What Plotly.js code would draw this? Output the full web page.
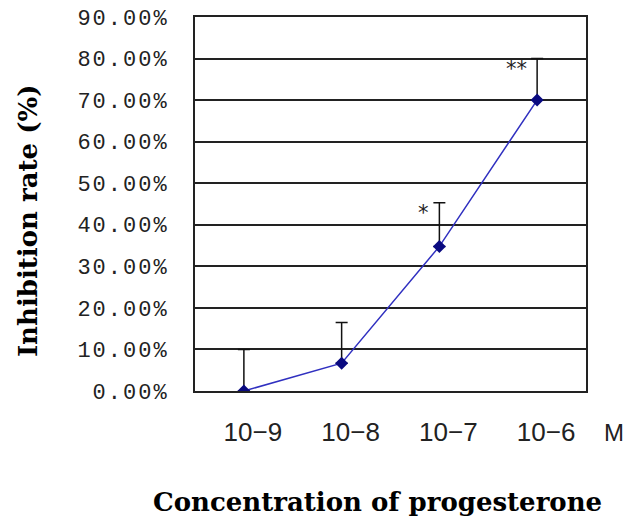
<!DOCTYPE html>
<html>
<head>
<meta charset="utf-8">
<script src="https://cdn.plot.ly/plotly-3.0.1.min.js"></script>
<style>
html,body{margin:0;padding:0;background:#fff;}
#chart{width:629px;height:523px;}
.ytick text{letter-spacing:2px;}
</style>
</head>
<body>
<div id="chart"></div>
<script>
// Data
const concentrations = ["10\u22129", "10\u22128", "10\u22127", "10\u22126"];
const inhibition = [0.0, 0.067, 0.348, 0.70];
const errorPlus = [0.10, 0.098, 0.105, 0.10];
const errorMinus = [0, 0, 0, 0];
const significance = ["", "", "*", "**"];
const yTicks = [0, 0.1, 0.2, 0.3, 0.4, 0.5, 0.6, 0.7, 0.8, 0.9];

const trace = {
  type: 'scatter',
  mode: 'lines+markers',
  x: concentrations,
  y: inhibition,
  line: {color: '#3030c0', width: 1.5},
  marker: {symbol: 'diamond', size: 10, color: '#0a0a80'},
  error_y: {
    type: 'data', symmetric: false,
    array: errorPlus, arrayminus: errorMinus,
    color: '#111', thickness: 1.5, width: 6
  },
  hoverinfo: 'skip'
};

const annotations = [];
significance.forEach((s, i) => {
  if (!s) return;
  annotations.push({
    x: concentrations[i], y: inhibition[i] + errorPlus[i] - 0.025,
    xref: 'x', yref: 'y', text: s, showarrow: false,
    xanchor: 'right', yanchor: 'middle', xshift: -8,
    font: {family: 'DejaVu Sans', size: 21, color: '#222'}
  });
});
annotations.push({
  x: 1.04, y: -0.11, xref: 'paper', yref: 'paper', text: 'M', showarrow: false,
  xanchor: 'left', yanchor: 'middle',
  font: {family: 'Liberation Sans', size: 24, color: '#222'}
});
annotations.push({
  x: -0.427, y: 0.4545, xref: 'paper', yref: 'paper', text: 'Inhibition rate (%)',
  showarrow: false, textangle: -90, xanchor: 'center', yanchor: 'middle',
  font: {family: 'DejaVu Serif', size: 26, weight: 'bold', color: '#000'}
});
annotations.push({
  x: 0.4655, y: -0.297, xref: 'paper', yref: 'paper', text: 'Concentration of progesterone',
  showarrow: false, xanchor: 'center', yanchor: 'middle',
  font: {family: 'DejaVu Serif', size: 26, weight: 'bold', color: '#000'}
});

const layout = {
  width: 629, height: 523,
  margin: {l: 195, r: 43, t: 17, b: 132},
  paper_bgcolor: '#fff', plot_bgcolor: '#fff',
  showlegend: false,
  xaxis: {
    type: 'category',
    range: [-0.5, 3.5],
    showgrid: false, zeroline: false,
    showline: true, mirror: true, linecolor: '#222', linewidth: 2,
    ticks: '',
    ticklabelstandoff: 17,
    ticklabelshift: 9,
    tickfont: {family: 'Liberation Sans', size: 26, color: '#222'}
  },
  yaxis: {
    range: [0, 0.9],
    tickvals: yTicks,
    tickformat: '.2%',
    showgrid: true, gridcolor: '#222', gridwidth: 2,
    zeroline: false,
    showline: true, mirror: true, linecolor: '#222', linewidth: 2,
    ticks: '',
    ticklabelstandoff: 20,
    tickfont: {family: 'Liberation Mono', size: 22, color: '#222'}
  },
  annotations: annotations
};

Plotly.newPlot('chart', [trace], layout, {displayModeBar: false, staticPlot: true});
</script>
</body>
</html>
